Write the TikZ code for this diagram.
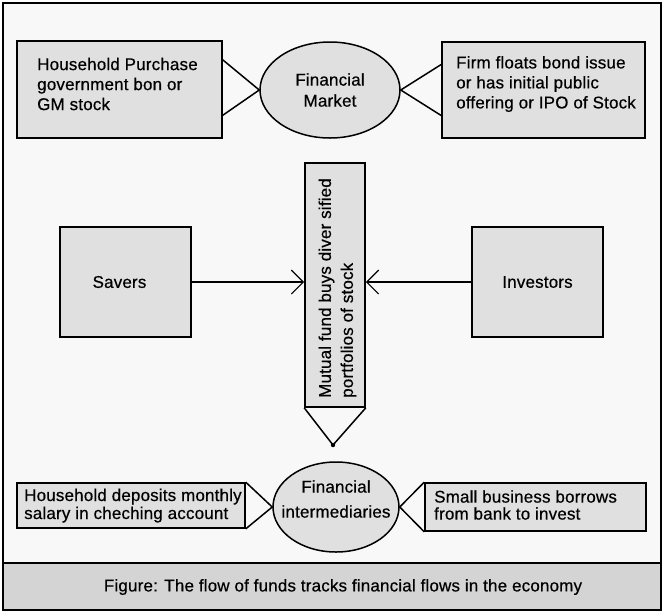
\documentclass[tikz,border=0pt]{standalone}
\usepackage{fontspec}
\setmainfont{Liberation Sans}[FakeBold=0.5, LetterSpace=1.0]
\usetikzlibrary{shapes.geometric,arrows.meta}
\definecolor{bggray}{HTML}{F8F8F8}
\definecolor{boxgray}{HTML}{E0E0E0}
\definecolor{capgray}{HTML}{D4D4D4}
\tikzset{
  box/.style={draw, line width=1.6pt, fill=boxgray, inner sep=0pt},
  oval/.style={draw, ellipse, line width=1.5pt, fill=boxgray, inner sep=0pt},
  txt/.style={align=left, inner sep=0pt, font=\fontsize{17}{20}\selectfont},
  link/.style={line width=1.5pt},
  flow/.style={line width=1.8pt, -{Straight Barb[length=12pt, width=24pt, line width=1.2pt]}}
}
\begin{document}
\begin{tikzpicture}[x=1pt, y=-1pt]
            \useasboundingbox (0,0) rectangle (664,614);
            \draw[line width=2pt, fill=bggray] (3,3) rectangle (661,610);
            \draw[line width=2pt, fill=capgray] (3,563) rectangle (661,610);
            % financial market
            \node[box, minimum width=205pt, minimum height=97pt] (hbuy) at (119.5,89.5) {};
            \node[txt, anchor=west] (hbuytext) at (37,84) {Household Purchase\\government bon or\\GM stock};
            \node[oval, minimum width=140pt, minimum height=96pt, align=center, font=\fontsize{17}{21}\selectfont] (fmkt) at (330,90) {Financial\\Market};
            \node[box, minimum width=203pt, minimum height=96pt] (fbox) at (543.5,90) {};
            \node[txt, anchor=west] (fboxtext) at (456,84) {Firm floats bond issue\\or has initial public\\offering or IPO of Stock};
            \draw[link] (hbuy.16) -- (fmkt.west) -- (hbuy.-14);
            \draw[link] (fbox.166) -- (fmkt.east) -- (fbox.194);
            % mutual fund
            \node[box, minimum width=131pt, minimum height=110pt, font=\fontsize{17}{20}\selectfont] (savers) at (125.5,282) {Savers\hspace*{12pt}};
            \node[box, minimum width=60pt, minimum height=244pt] (fund) at (335,285) {};
            \node[txt, rotate=90, anchor=west, font=\fontsize{17}{22}\selectfont] (fundtext) at (337.5,398) {Mutual fund buys diver sified\\portfolios of stock};
            \node[box, minimum width=131pt, minimum height=110pt, font=\fontsize{17}{20}\selectfont] (inv) at (537.5,282) {Investors};
            \coordinate (tip) at (333,445);
            \draw[flow] (savers.east) -- (savers.east -| fund.west);
            \draw[flow] (inv.west) -- (inv.west -| fund.east);
            \draw[link] (fund.south west) -- (tip) -- (fund.south east);
            \fill (tip) circle (2.2pt);
            % intermediaries
            \node[box, minimum width=228pt, minimum height=45pt] (hdep) at (131,505.5) {};
            \node[txt, anchor=west, font=\fontsize{17}{18}\selectfont] (hdeptext) at (24,505.6) {Household deposits monthly\\salary in cheching account};
            \node[oval, minimum width=126pt, minimum height=90pt] (finint) at (336,507) {};
            \node[txt, align=center, font=\fontsize{17}{25}\selectfont] (fininttext) at (336,499) {Financial\\intermediaries};
            \node[box, minimum width=221pt, minimum height=48pt] (sbiz) at (535.5,507) {};
            \node[txt, anchor=west, font=\fontsize{17}{17}\selectfont] (sbiztext) at (434,505) {Small business borrows\\from bank to invest};
            \draw[link] (hdep.north east) -- (finint.west) -- (hdep.south east);
            \draw[link] (sbiz.north west) -- (finint.east) -- (sbiz.south west);
            % caption
            \node[txt] (caption) at (343,587) {Figure: The flow of funds tracks financial flows in the economy};
        \end{tikzpicture}
\end{document}
